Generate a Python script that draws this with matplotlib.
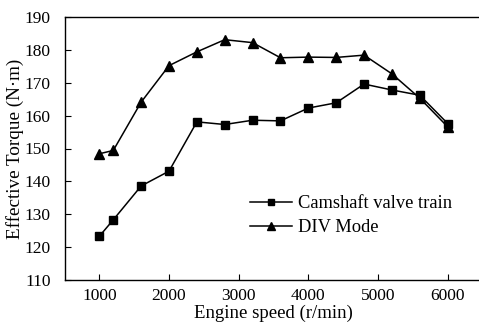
import matplotlib
matplotlib.use('Agg')
import matplotlib.pyplot as plt

# datos
velocidad = [1000, 1200, 1600, 2000, 2400, 2800, 3200, 3600, 4000, 4400, 4800, 5200, 5600, 6000]
par_camshaft = [123.3, 128.3, 138.6, 143.1, 158.1, 157.3, 158.6, 158.4, 162.3, 163.9, 169.6, 167.8, 166.2, 157.6]
par_div = [148.4, 149.4, 164.1, 175.2, 179.4, 183.1, 182.2, 177.6, 177.8, 177.7, 178.4, 172.7, 165.3, 156.6]

plt.rcParams['font.family'] = 'Liberation Serif'
plt.rcParams['font.size'] = 12.5

fig = plt.figure(figsize=(4.79, 3.27), dpi=100)
ax = fig.add_axes([64.5 / 479, 47 / 327, 418 / 479, 263 / 327])

ax.plot(velocidad, par_camshaft, color='black', lw=1.1, marker='s', ms=5.5,
        label='Camshaft valve train')
ax.plot(velocidad, par_div, color='black', lw=1.1, marker='^', ms=6.5,
        label='DIV Mode')

ax.set_xlim(500, 6500)
ax.set_ylim(110, 190)
ax.set_xticks([1000, 2000, 3000, 4000, 5000, 6000])
ax.set_yticks(range(110, 191, 10))
ax.tick_params(direction='in', length=4, width=0.8, labelsize=12.5)
ax.tick_params(axis='y', pad=10)
ax.tick_params(axis='x', pad=6)
for s in ax.spines.values():
    s.set_linewidth(1.0)
ax.spines['right'].set_visible(False)

ax.set_xlabel('Engine speed (r/min)', fontsize=13.5, labelpad=0)
ax.set_ylabel('Effective Torque (N·m)', fontsize=13.8, labelpad=0)

ax.legend(loc='upper left', bbox_to_anchor=(0.426, 0.35), frameon=False,
          fontsize=13.3, markerscale=0.8,
          handlelength=2.3, handletextpad=0.3, labelspacing=0.36,
          borderaxespad=0)

fig.savefig('out.png', dpi=100)
